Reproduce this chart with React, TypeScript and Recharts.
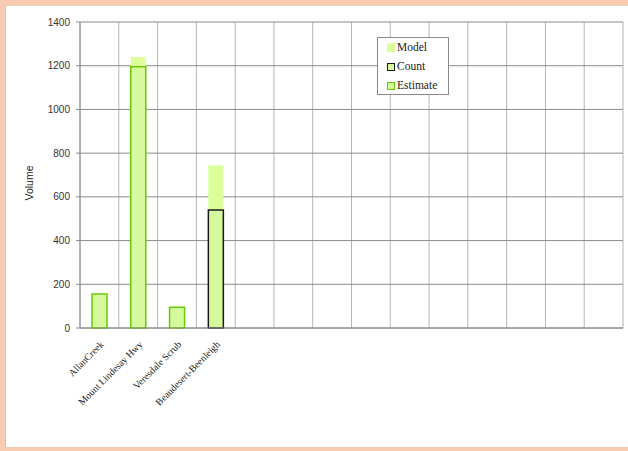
import { Bar, BarChart, CartesianGrid, Label, Legend, XAxis, YAxis } from "recharts";

const categories = [
  "AllanCreek",
  "Mount Lindesay Hwy",
  "Veresdale Scrub",
  "Beaudesert-Beenleigh",
  "", "", "", "", "", "", "", "", "", "",
];
const modelValues = [null, 1240, null, 745, null, null, null, null, null, null, null, null, null, null];
const countValues = [null, null, null, 540, null, null, null, null, null, null, null, null, null, null];
const estimateValues = [155, 1195, 95, null, null, null, null, null, null, null, null, null, null, null];
const yTicks = [0, 200, 400, 600, 800, 1000, 1200, 1400];

const data = categories.map((name, i) => ({
  name,
  model: modelValues[i],
  count: countValues[i],
  estimate: estimateValues[i],
}));

const legendItems = [
  { label: "Model", fill: "#ddff99", stroke: "none" },
  { label: "Count", fill: "#d6f99e", stroke: "#1a1a1a" },
  { label: "Estimate", fill: "#d6f99e", stroke: "#66cc00" },
];

const XTick = ({ x, y, payload }: any) => (
  <text
    x={x + 5}
    y={y + 9}
    transform={`rotate(-45 ${x + 5} ${y + 9})`}
    textAnchor="end"
    fontSize={9.8}
    fontFamily="Liberation Serif"
    fill="#222"
  >
    {payload.value}
  </text>
);

const LegendBox = () => (
  <div
    style={{
      border: "1px solid #8a8a8a",
      background: "#fff",
      width: 72,
      height: 58,
      boxSizing: "border-box",
      padding: "0 0 0 9px",
      fontFamily: "Liberation Serif",
      fontSize: 11.5,
      lineHeight: "19px",
      color: "#222",
    }}
  >
    {legendItems.map((it) => (
      <div key={it.label} style={{ display: "flex", alignItems: "center", height: 19 }}>
        <span
          style={{
            width: 6,
            height: it.stroke === "none" ? 7 : 6,
            background: it.fill,
            border: it.stroke === "none" ? "1px solid transparent" : `1.5px solid ${it.stroke}`,
            marginRight: 2,
            display: "inline-block",
          }}
        />
        {it.label}
      </div>
    ))}
  </div>
);

export default function App() {
  return (
    <div
      style={{
        position: "absolute",
        left: 0,
        top: 0,
        width: 628,
        height: 451,
        background: "#f8cbb0",
      }}
    >
      <div
        style={{
          position: "absolute",
          left: 5,
          top: 5,
          width: 623,
          height: 442,
          background: "#fff",
          borderLeft: "1px solid #d9c3ae",
          borderTop: "1px solid #e8d0bb",
          boxSizing: "border-box",
        }}
      />
      <div style={{ position: "absolute", left: 0, top: 0 }}>
        <BarChart
          width={628}
          height={451}
          data={data}
          margin={{ top: 22, right: 5, bottom: 13, left: 0 }}
          barSize={15}
        >
          <CartesianGrid
            stroke="#b4b4b4"
            horizontal={false}
            verticalCoordinatesGenerator={({ offset }: any) =>
              Array.from({ length: categories.length + 1 }, (_, i) => offset.left + (i * offset.width) / categories.length)
            }
          />
          <CartesianGrid stroke="#8c8c8c" vertical={false} />
          <XAxis xAxisId="model" dataKey="name" hide height={0} />
          <XAxis xAxisId="count" dataKey="name" hide height={0} />
          <XAxis
            xAxisId="est"
            dataKey="name"
            height={110}
            interval={0}
            tick={<XTick />}
            tickLine={false}
            axisLine={{ stroke: "#8a8a8a" }}
          />
          <YAxis
            width={80}
            domain={[0, 1400]}
            ticks={yTicks}
            interval={0}
            tick={{ fontSize: 10, fontFamily: "Liberation Sans", fill: "#333" }}
            tickSize={4}
            tickMargin={6}
            tickLine={{ stroke: "#8a8a8a" }}
            axisLine={{ stroke: "#8a8a8a" }}
          >
            <Label
              content={({ viewBox }: any) => (
                <text
                  x={29}
                  y={viewBox.y + viewBox.height / 2 + 8}
                  transform={`rotate(-90 29 ${viewBox.y + viewBox.height / 2 + 8})`}
                  textAnchor="middle"
                  dominantBaseline="central"
                  fontSize={10.5}
                  fontFamily="Liberation Sans"
                  fill="#222"
                >
                  Volume
                </text>
              )}
            />
          </YAxis>
          <Legend
            layout="vertical"
            align="center"
            verticalAlign="middle"
            content={<LegendBox />}
            wrapperStyle={{ position: "absolute", left: 377, top: 37, width: 72, height: 58 }}
          />
          <Bar xAxisId="model" dataKey="model" name="Model" fill="#ddff99" isAnimationActive={false} />
          <Bar
            xAxisId="count"
            dataKey="count"
            name="Count"
            fill="#d6f99e"
            stroke="#1a1a1a"
            strokeWidth={1.5}
            isAnimationActive={false}
          />
          <Bar
            xAxisId="est"
            dataKey="estimate"
            name="Estimate"
            fill="#d6f99e"
            stroke="#66cc00"
            strokeWidth={1.5}
            isAnimationActive={false}
          />
        </BarChart>
      </div>
    </div>
  );
}
